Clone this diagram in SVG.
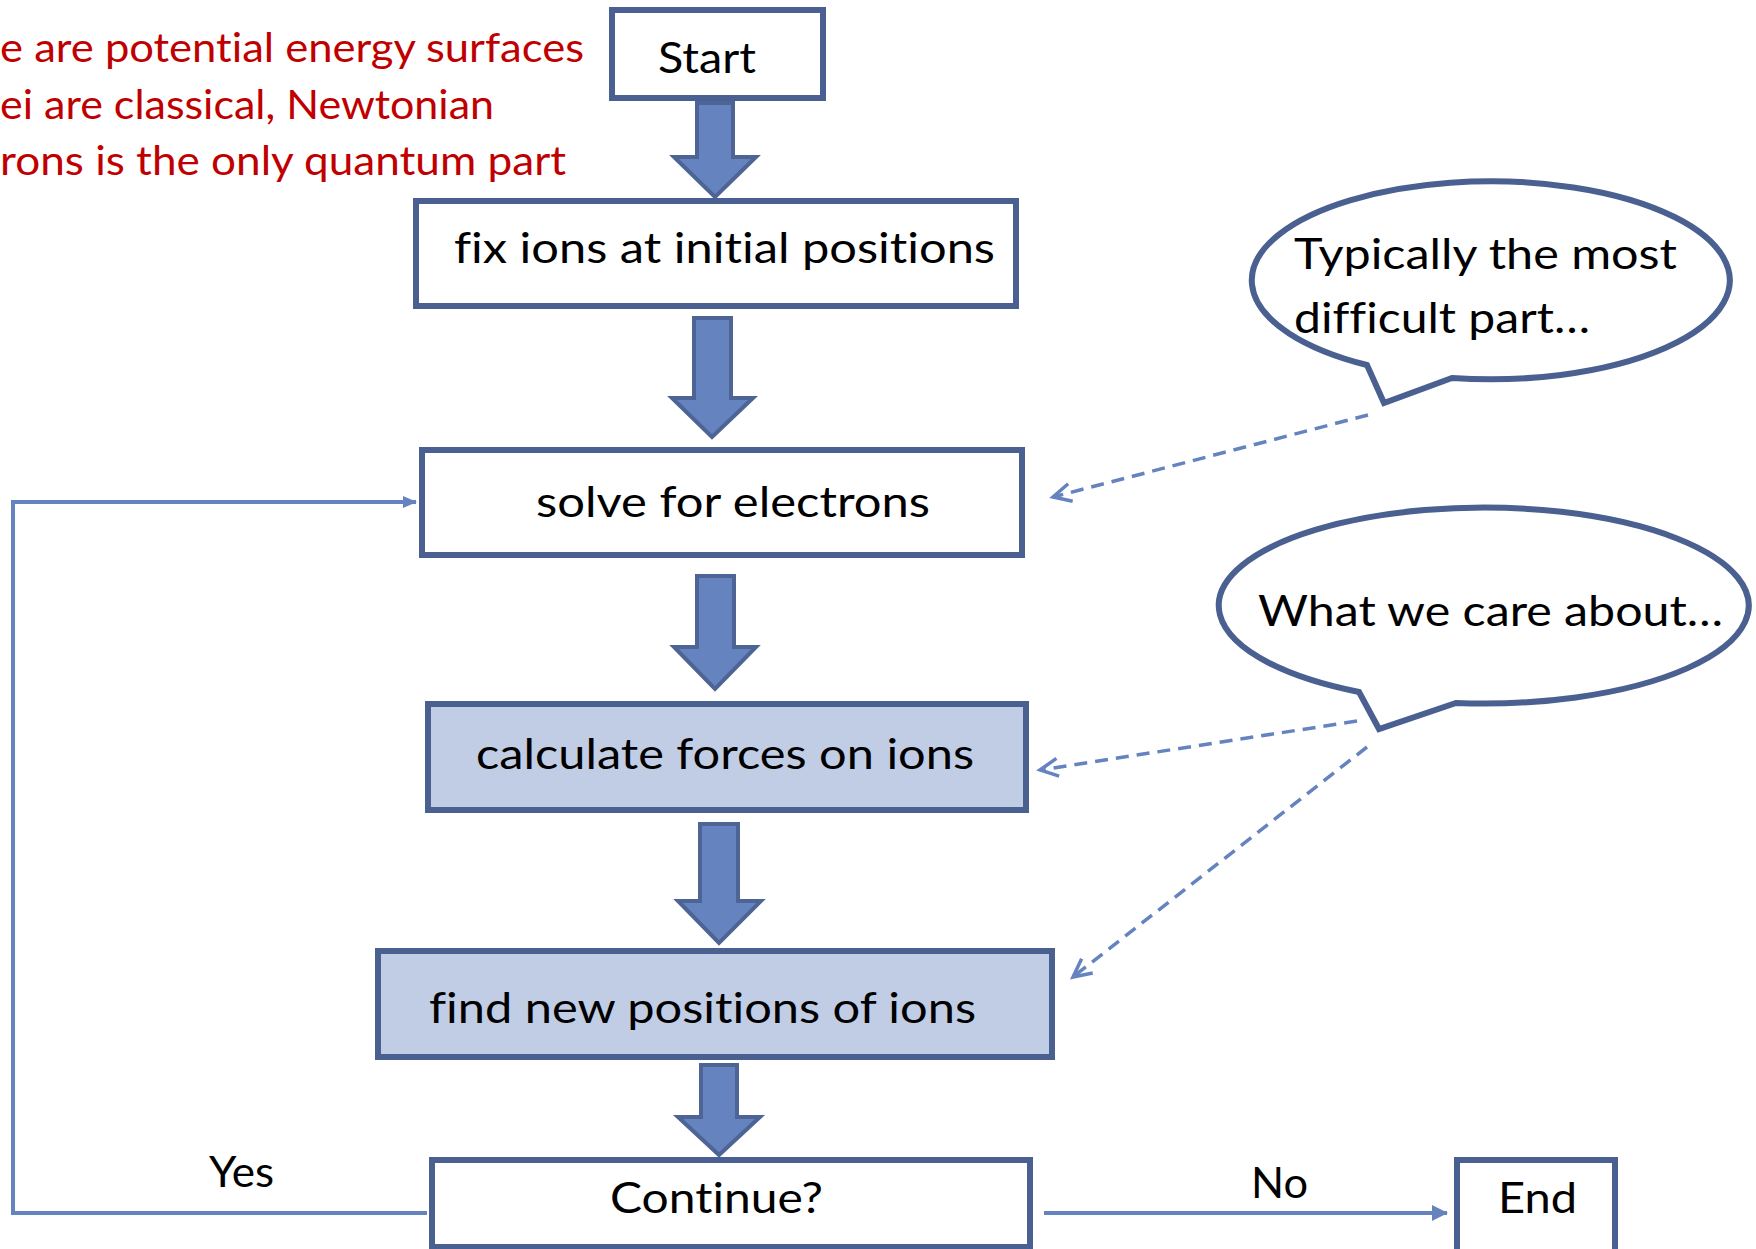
<svg xmlns="http://www.w3.org/2000/svg" width="1756" height="1249" viewBox="0 0 1756 1249">
<defs>
<style>
.box{fill:#fff;stroke:#4A6090;stroke-width:6}
.hl{fill:#C1CDE5}
.t{font-family:Lato,"Liberation Sans",sans-serif;font-size:43px;fill:#000;font-variant-ligatures:none}
.red{font-family:Lato,"Liberation Sans",sans-serif;font-size:41px;fill:#C00000;font-variant-ligatures:none}
.blk{fill:#6583BF;stroke:#4D6494;stroke-width:4;stroke-linejoin:miter}
.ln{fill:none;stroke:#6583BF;stroke-width:4}
.dash{fill:none;stroke:#6583BF;stroke-width:3.5;stroke-dasharray:13 8}
.bub{fill:#fff;stroke:#4A6090;stroke-width:6;stroke-linejoin:miter}
</style>
<marker id="tri" markerWidth="14" markerHeight="12" refX="13" refY="6" orient="auto" markerUnits="userSpaceOnUse" viewBox="0 0 14 12">
<path d="M0,0 L14,6 L0,12 Z" fill="#6583BF"/>
</marker>
<marker id="tri2" markerWidth="16" markerHeight="16" refX="15" refY="8" orient="auto" markerUnits="userSpaceOnUse" viewBox="0 0 16 16">
<path d="M0,0 L16,8 L0,16 Z" fill="#6583BF"/>
</marker>
<marker id="open" markerWidth="26" markerHeight="26" refX="22" refY="13" orient="auto" markerUnits="userSpaceOnUse" viewBox="0 0 26 26">
<path d="M4,4 L22,13 L4,22" fill="none" stroke="#6583BF" stroke-width="3.5"/>
</marker>
</defs>

<g id="note">
<text class="red" x="0" y="62" textLength="584" lengthAdjust="spacingAndGlyphs">e are potential energy surfaces</text>
<text class="red" x="0" y="119" textLength="494" lengthAdjust="spacingAndGlyphs">ei are classical, Newtonian</text>
<text class="red" x="0" y="175" textLength="566" lengthAdjust="spacingAndGlyphs">rons is the only quantum part</text>
</g>

<g id="connectors">
<path class="blk" d="M697,103 H733 V157 H756 L715,197 L674,157 H697 Z"/>
<path class="blk" d="M694,318 H731 V398 H753 L712,437 L672,398 H694 Z"/>
<path class="blk" d="M697,576 H734 V647 H756 L715,689 L674,647 H697 Z"/>
<path class="blk" d="M700,824 H738 V901 H761 L719,943 L678,901 H700 Z"/>
<path class="blk" d="M701,1065 H737 V1117 H760 L719,1155 L678,1117 H701 Z"/>
<path class="ln" d="M427,1213 H13 V502 H416" marker-end="url(#tri)"/>
<path class="ln" d="M1044,1213 H1447" marker-end="url(#tri2)"/>
<path class="dash" d="M1368,415 L1053,497" marker-end="url(#open)"/>
<path class="dash" d="M1357,721 L1040,770" marker-end="url(#open)"/>
<path class="dash" d="M1367,747 L1073,977" marker-end="url(#open)"/>
</g>

<g id="start">
<rect class="box" x="612" y="10" width="211" height="88"/>
<text class="t" x="658" y="73" textLength="98" lengthAdjust="spacingAndGlyphs">Start</text>
</g>
<g id="fix">
<rect class="box" x="416" y="201" width="600" height="105"/>
<text class="t" x="454" y="263" textLength="541" lengthAdjust="spacingAndGlyphs">fix ions at initial positions</text>
</g>
<g id="solve">
<rect class="box" x="422" y="450" width="600" height="105"/>
<text class="t" x="536" y="517" textLength="394" lengthAdjust="spacingAndGlyphs">solve for electrons</text>
</g>
<g id="calc">
<rect class="box hl" x="428" y="704" width="598" height="106"/>
<text class="t" x="476" y="769" textLength="498" lengthAdjust="spacingAndGlyphs">calculate forces on ions</text>
</g>
<g id="find">
<rect class="box hl" x="378" y="951" width="674" height="106"/>
<text class="t" x="429" y="1023" textLength="547" lengthAdjust="spacingAndGlyphs">find new positions of ions</text>
</g>
<g id="continue">
<rect class="box" x="432" y="1160" width="598" height="87"/>
<text class="t" x="610" y="1213" textLength="213" lengthAdjust="spacingAndGlyphs">Continue?</text>
</g>
<g id="end">
<rect class="box" x="1457" y="1160" width="158" height="95"/>
<text class="t" x="1498" y="1213" textLength="79" lengthAdjust="spacingAndGlyphs">End</text>
</g>
<g id="labels">
<text class="t" x="209" y="1187" textLength="65" lengthAdjust="spacingAndGlyphs">Yes</text>
<text class="t" x="1251" y="1198" textLength="57" lengthAdjust="spacingAndGlyphs">No</text>
</g>

<g id="bubble1">
<path class="bub" d="M1367,365 A239,99 0 1 1 1452,378 L1384,403 Z"/>
<text class="t" x="1294" y="269" textLength="383" lengthAdjust="spacingAndGlyphs">Typically the most</text>
<text class="t" x="1294" y="333" textLength="296" lengthAdjust="spacingAndGlyphs">difficult part…</text>
</g>
<g id="bubble2">
<path class="bub" d="M1359,692 A265,98 0 1 1 1456,703 L1379,729 Z"/>
<text class="t" x="1258" y="626" textLength="465" lengthAdjust="spacingAndGlyphs">What we care about…</text>
</g>
</svg>
